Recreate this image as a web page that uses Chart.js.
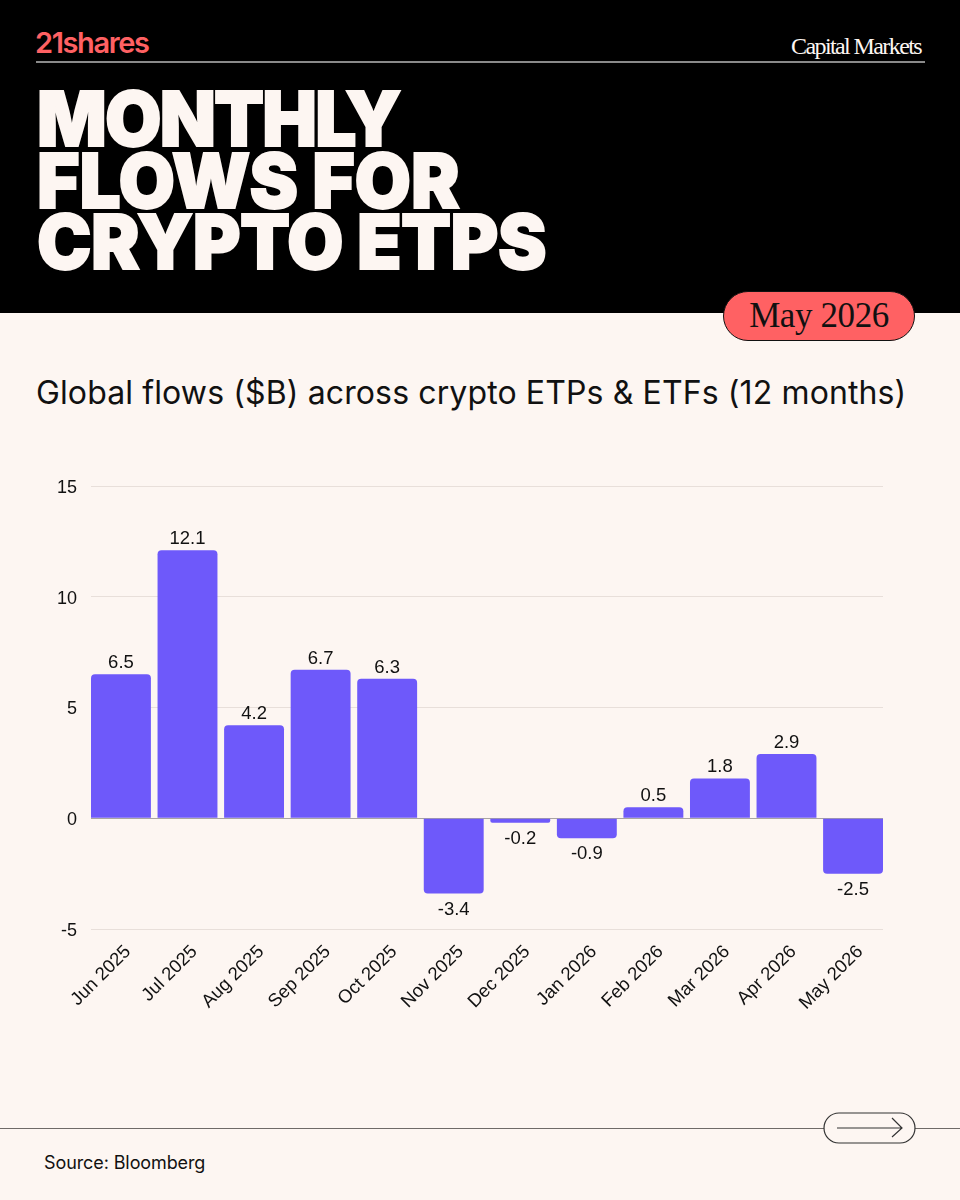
<!DOCTYPE html>
<html>
<head>
<meta charset="utf-8">
<script src="https://cdn.jsdelivr.net/npm/chart.js@4/dist/chart.umd.min.js"></script>
<style>
html, body { margin: 0; padding: 0; }
body { position: relative; width: 960px; height: 1200px; background: #fdf6f2; overflow: hidden; font-family: Inter, sans-serif; color: #111; }
.abs { position: absolute; white-space: nowrap; }
#head { left: 0; top: 0; width: 960px; height: 313px; background: #000; }
#logo { left: 35px; top: 26px; font: 600 29px/34px Inter, sans-serif; letter-spacing: -1.4px; color: #ff6163; }
#section { right: 39px; top: 33px; font: 400 24px/26px "Liberation Serif", serif; letter-spacing: -1.6px; color: #fdf6f2; }
#rule { left: 36px; top: 61px; width: 889px; height: 1.5px; background: #8a8a8a; }
#title { left: 37px; top: 88px; font: 900 76px/61.5px Inter, sans-serif; color: #fdf6f2; -webkit-text-stroke: 1.8px #fdf6f2; transform: scaleX(0.96); transform-origin: left top; }
#pill { left: 723px; top: 291px; width: 192px; height: 50px; box-sizing: border-box; background: #ff6163; border: 1.5px solid #111; border-radius: 25px; text-align: center; font: 400 35px/47px "Liberation Serif", serif; letter-spacing: -0.4px; color: #111; }
#sub { left: 36px; top: 372px; font: 400 32px/42px Inter, sans-serif; letter-spacing: 0.12px; color: #111; }
#chartBox { left: 0; top: 460px; width: 960px; height: 600px; }
#foot { left: 0; top: 1127.5px; width: 960px; height: 1.5px; background: #6f6a68; }
#source { left: 44px; top: 1152px; font: 400 18px/22px Inter, sans-serif; letter-spacing: -0.1px; color: #111; }
#arrow { left: 823px; top: 1112px; }
</style>
</head>
<body>
<div class="abs" id="head"></div>
<div class="abs" id="logo">21shares</div>
<div class="abs" id="section">Capital Markets</div>
<div class="abs" id="rule"></div>
<div class="abs" id="title"><span style="letter-spacing:-1.9px">MONTHLY</span><br><span style="letter-spacing:-0.2px">FLOWS FOR</span><br><span style="letter-spacing:-0.6px">CRYPTO ETPS</span></div>
<div class="abs" id="pill">May 2026</div>
<div class="abs" id="sub">Global flows ($B) across crypto ETPs &amp; ETFs (12 months)</div>
<div class="abs" id="chartBox"><canvas id="flowsChart"></canvas></div>
<div class="abs" id="foot"></div>
<div class="abs" id="source">Source: Bloomberg</div>
<svg class="abs" id="arrow" width="94" height="32" viewBox="0 0 94 32">
  <rect x="1" y="1" width="91" height="30" rx="15" fill="#fdf6f2" stroke="#333" stroke-width="1.2"/>
  <path d="M14 16H79M69 6L79 16L69 25" fill="none" stroke="#333" stroke-width="1.2"/>
</svg>
<script>
var months = ['Jun 2025', 'Jul 2025', 'Aug 2025', 'Sep 2025', 'Oct 2025', 'Nov 2025', 'Dec 2025', 'Jan 2026', 'Feb 2026', 'Mar 2026', 'Apr 2026', 'May 2026'];
var flows = [6.5, 12.1, 4.2, 6.7, 6.3, -3.4, -0.2, -0.9, 0.5, 1.8, 2.9, -2.5];
var yTicks = [15, 10, 5, 0, -5];

var chartFont = { family: '"Liberation Sans", sans-serif', size: 18 };

// value labels above/below each bar
var barLabels = {
    id: 'barLabels',
    afterDatasetsDraw: function(chart) {
        var ctx = chart.ctx;
        var bars = chart.getDatasetMeta(0).data;
        ctx.save();
        ctx.font = '400 18.5px "Liberation Sans", sans-serif';
        ctx.fillStyle = '#111';
        ctx.textAlign = 'center';
        ctx.textBaseline = 'alphabetic';
        bars.forEach(function(bar, i) {
            var v = flows[i];
            ctx.fillText(v.toFixed(1), bar.x, v < 0 ? bar.y + 21 : bar.y - 6);
        });
        ctx.restore();
    }
};

new Chart(document.getElementById('flowsChart'), {
    type: 'bar',
    plugins: [barLabels],
    data: {
        // linear x scale so the first and last bars sit flush with the grid ends
        datasets: [{
            data: flows.map(function(v, i) { return { x: i, y: v }; }),
            backgroundColor: '#6e59fa',
            borderRadius: 4,
            categoryPercentage: 0.9,
            barPercentage: 1
        }]
    },
    options: {
        responsive: true,
        maintainAspectRatio: false,
        animation: false,
        layout: { padding: { top: 26, right: 77, bottom: 0, left: 0 } },
        plugins: {
            legend: { display: false },
            tooltip: { enabled: false }
        },
        scales: {
            y: {
                min: -5,
                max: 15,
                afterFit: function(axis) { axis.width = 91; },
                afterBuildTicks: function(axis) {
                    axis.ticks = yTicks.map(function(v) { return { value: v }; });
                },
                border: { display: false },
                grid: {
                    drawTicks: false,
                    color: function(c) { return c.tick.value === 0 ? '#a9a4a2' : '#e8dfda'; }
                },
                ticks: {
                    padding: 14,
                    labelOffset: 2,
                    color: '#111',
                    font: chartFont
                }
            },
            x: {
                type: 'linear',
                offset: false,
                min: -0.45,
                max: 11.45,
                afterFit: function(axis) { axis.height = 131; },
                afterBuildTicks: function(axis) {
                    axis.ticks = months.map(function(m, i) { return { value: i }; });
                },
                border: { display: false },
                grid: { display: false },
                ticks: {
                    autoSkip: false,
                    minRotation: 45,
                    maxRotation: 45,
                    padding: 4,
                    labelOffset: 7,
                    color: '#111',
                    font: { family: '"Liberation Sans", sans-serif', size: 18.5 },
                    callback: function(value) { return months[value]; }
                }
            }
        }
    }
});
</script>
</body>
</html>
